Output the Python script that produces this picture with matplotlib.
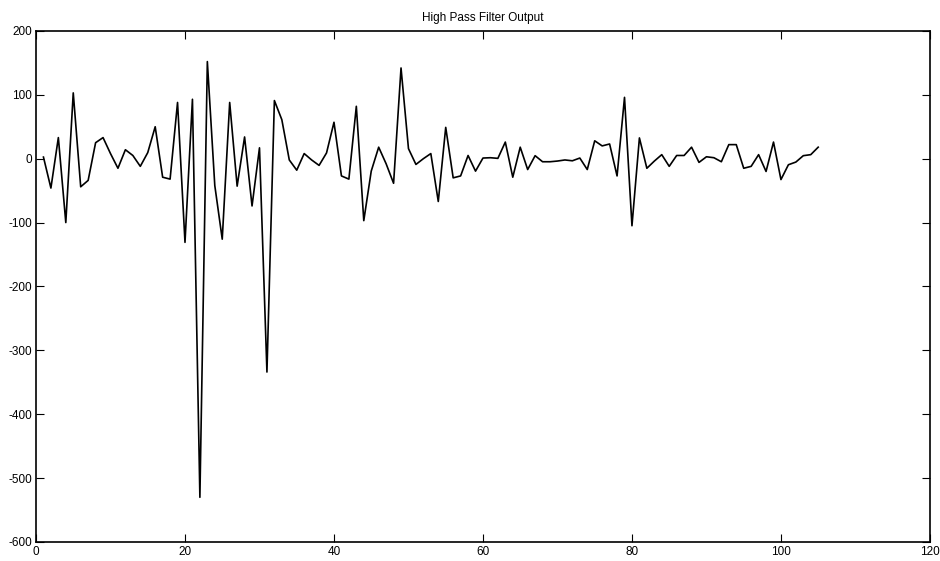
import numpy as np
import matplotlib
matplotlib.use("Agg")
import matplotlib.pyplot as plt

plt.rcParams['font.family'] = ['Liberation Sans Narrow', 'Liberation Sans', 'DejaVu Sans']
plt.rcParams['axes.unicode_minus'] = False

# sample index 1..105
x = np.arange(1, 106)
hpf = [2.5, -46, 33, -100, 103, -44, -34, 25, 33, 8,
       -15, 14, 5, -12, 9.5, 50, -29, -32, 88, -131,
       93, -530, 152, -42, -126, 88, -43, 34, -74, 17,
       -334, 91, 61, -2, -18, 8, -2, -10.5, 9, 57,
       -27, -32, 82, -97, -19.5, 18, -8, -38.5, 142, 15.7,
       -9, 0, 8, -67, 49, -30, -27, 5, -19.5, 1,
       1.5, 0.5, 26, -29, 18, -17, 4.7, -4.8, -4.8, -3.7,
       -2, -3.3, 1, -17, 28, 20, 23, -27, 96, -105,
       32.5, -15, -3.8, 6.3, -12, 5, 5, 18, -5.8, 3,
       1.5, -4.8, 22, 22, -15, -12, 6.3, -20, 26, -32.7,
       -9.5, -5.3, 4.7, 6.3, 18]

fig = plt.figure(figsize=(9.4, 5.61), dpi=100)
ax = fig.add_axes([0.0383, 0.0339, 0.951, 0.911])

ax.plot(x, hpf, color='black', linewidth=1.2)

ax.set_xlim(0, 120)
ax.set_ylim(-600, 200)
ax.set_xticks(np.arange(0, 121, 20))
ax.set_yticks(np.arange(-600, 201, 100))
ax.tick_params(direction='in', top=True, right=True, length=6, width=0.8,
               labelsize=8.5, pad=3)
for s in ax.spines.values():
    s.set_linewidth(1.2)

ax.set_title('High Pass Filter Output', fontsize=8.5, pad=7)

fig.savefig('out.png', dpi=100)
